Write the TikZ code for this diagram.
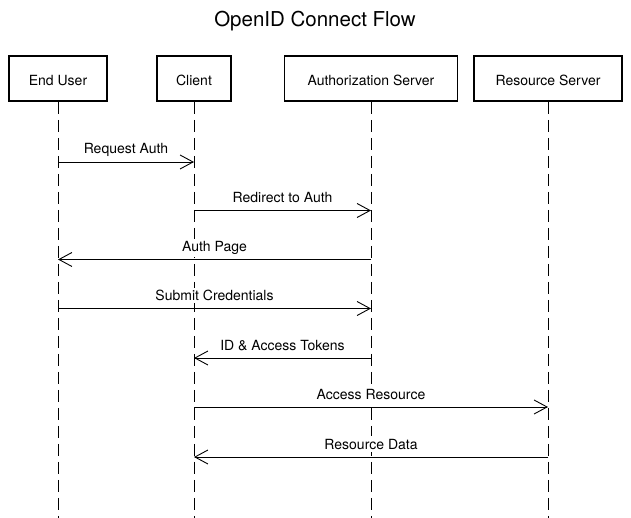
\documentclass[tikz,border=0pt]{standalone}
\usepackage{fontspec}
\setmainfont{TeX Gyre Heros}
\usetikzlibrary{arrows.meta}
\tikzset{
  actor/.style={draw, line width=1.8pt, minimum height=45pt, inner sep=0pt,
    text height=15pt, text depth=0pt, font=\fontsize{14}{16}\selectfont},
  life/.style={line width=0.9pt, dash pattern=on 12pt off 6pt},
  msg/.style={line width=0.9pt, -{Straight Barb[length=13pt,width=14pt,line width=0.9pt]}},
  lbl/.style={anchor=base, fill=white, inner xsep=1pt, inner ysep=2.5pt, yshift=8pt,
    font=\fontsize{14}{16}\selectfont}
}

\begin{document}
\begin{tikzpicture}[x=1pt,y=-1pt]
  \useasboundingbox (0,0) rectangle (631,518);
  \node[anchor=base, font=\fontsize{20.5}{24}\selectfont] (title) at (315,27) {OpenID Connect Flow};

  % participants
  \node[actor, minimum width=98pt] (eu) at (58,78.5) {End User};
  \node[actor, minimum width=74pt] (cl) at (194,78.5) {Client};
  \node[actor, minimum width=173pt] (as) at (371,78.5) {Authorization Server};
  \node[actor, minimum width=148pt] (rs) at (548,78.5) {Resource Server};

  % lifelines
  \coordinate (end) at (0,518);
  \draw[life] (eu.south) -- (eu |- end);
  \draw[life] (cl.south) -- (cl |- end);
  \draw[life] (as.south) -- (as |- end);
  \draw[life] (rs.south) -- (rs |- end);

  % messages
  \coordinate (m1) at (0,162);
  \coordinate (m2) at (0,210.5);
  \coordinate (m3) at (0,259.5);
  \coordinate (m4) at (0,308.5);
  \coordinate (m5) at (0,358);
  \coordinate (m6) at (0,407);
  \coordinate (m7) at (0,457);
  \draw[msg] (eu |- m1) -- node[lbl]{Request Auth} (cl |- m1);
  \draw[msg] (cl |- m2) -- node[lbl]{Redirect to Auth} (as |- m2);
  \draw[msg] (as |- m3) -- node[lbl]{Auth Page} (eu |- m3);
  \draw[msg] (eu |- m4) -- node[lbl]{Submit Credentials} (as |- m4);
  \draw[msg] (as |- m5) -- node[lbl]{ID \& Access Tokens} (cl |- m5);
  \draw[msg] (cl |- m6) -- node[lbl]{Access Resource} (rs |- m6);
  \draw[msg] (rs |- m7) -- node[lbl]{Resource Data} (cl |- m7);
\end{tikzpicture}
\end{document}
